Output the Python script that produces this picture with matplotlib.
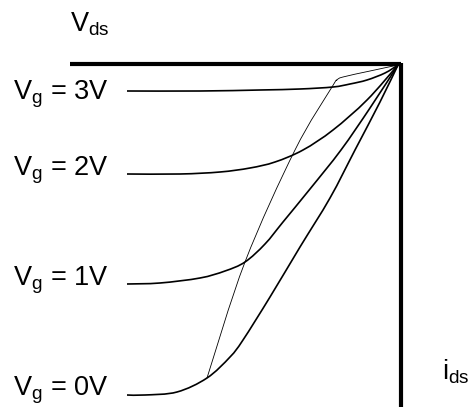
import matplotlib
matplotlib.use("Agg")
import matplotlib.pyplot as plt
from matplotlib.path import Path
from matplotlib.patches import PathPatch

plt.rcParams['font.family'] = ['Liberation Sans', 'DejaVu Sans']
plt.rcParams['mathtext.fontset'] = 'custom'
plt.rcParams['mathtext.rm'] = 'Liberation Sans'

# drain curves, one per gate voltage (pixel-space coords, y grows downward)
vg3_x = [127, 200, 260, 300, 333, 350, 367, 385, 398]
vg3_y = [91, 91, 90, 89, 87, 84, 80, 73, 65]

vg2_x = [127, 180, 220, 250, 275, 303, 333, 367, 398]
vg2_y = [174, 174, 172, 168, 162, 150, 130, 100, 65]

vg1_x = [127, 160, 200, 225, 245, 265, 283, 310, 341, 370, 398]
vg1_y = [284, 283, 278, 271, 262, 244, 222, 189, 150, 108, 65]

vg0_x = [127, 145, 177, 207, 230, 243, 270, 300, 330, 355, 380, 398]
vg0_y = [395, 395, 392, 378, 357, 340, 297, 247, 198, 150, 102, 65]

# saturation boundary
sat_x = [207, 245, 295, 332, 337, 343, 370, 398]
sat_y = [378, 262, 150, 87, 80, 77, 71, 65]

curves = [(vg3_x, vg3_y), (vg2_x, vg2_y), (vg1_x, vg1_y), (vg0_x, vg0_y)]
labels = ['3V', '2V', '1V', '0V']
label_y = [100, 176, 286, 396]


def smooth_path(x, y):
    # Catmull-Rom through the points, written out as cubic Bezier segments
    pts = list(zip(x, y))
    verts = [pts[0]]
    codes = [Path.MOVETO]
    for i in range(len(pts) - 1):
        p0 = pts[i - 1] if i > 0 else pts[i]
        p1 = pts[i]
        p2 = pts[i + 1]
        p3 = pts[i + 2] if i + 2 < len(pts) else pts[i + 1]
        c1 = (p1[0] + (p2[0] - p0[0]) / 6, p1[1] + (p2[1] - p0[1]) / 6)
        c2 = (p2[0] - (p3[0] - p1[0]) / 6, p2[1] - (p3[1] - p1[1]) / 6)
        verts += [c1, c2, p2]
        codes += [Path.CURVE4] * 3
    return Path(verts, codes)


fig = plt.figure(figsize=(4.72, 4.07), dpi=100)
ax = fig.add_axes([0, 0, 1, 1])
ax.set_xlim(0, 472)
ax.set_ylim(407, 0)
ax.axis('off')

# axes frame: Vds along the top, ids down the right side
ax.plot([70, 401], [64, 64], color='black', lw=3, solid_capstyle='butt')
ax.plot([401, 401], [62.5, 407], color='black', lw=3, solid_capstyle='butt')

for (x, y) in curves:
    ax.add_patch(PathPatch(smooth_path(x, y), fill=False, color='black', lw=1.2))
ax.add_patch(PathPatch(smooth_path(sat_x, sat_y), fill=False, color='black', lw=0.6))

for lab, yy in zip(labels, label_y):
    ax.text(13, yy, r'$\mathregular{V_g}$ = ' + lab, fontsize=19.5,
            ha='left', va='baseline')

ax.text(70, 32, r'$\mathregular{V_{ds}}$', fontsize=19.5, ha='left', va='baseline')
ax.text(442, 380, r'$\mathregular{i_{ds}}$', fontsize=19.5, ha='left', va='baseline')

plt.savefig("out.png", dpi=100)
